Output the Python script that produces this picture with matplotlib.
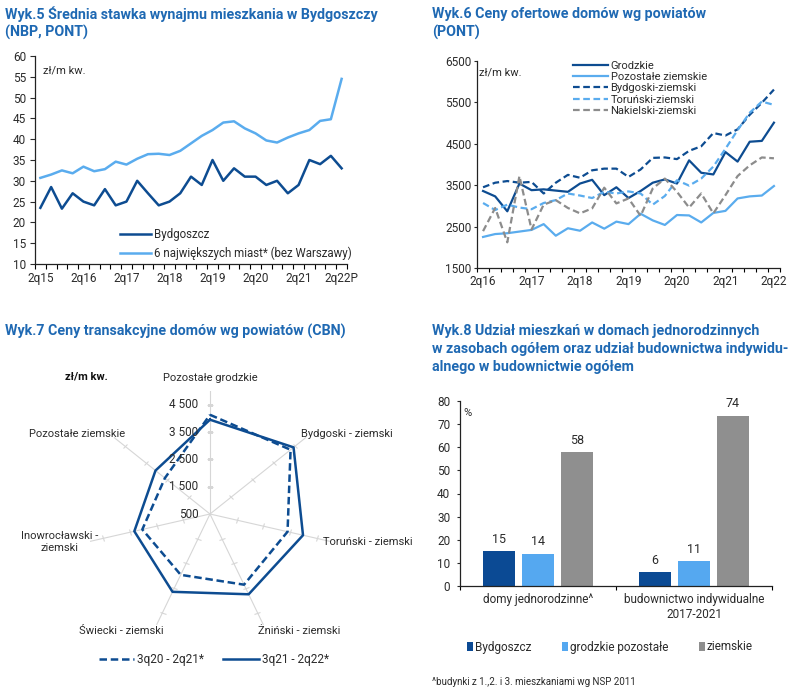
import numpy as np
import matplotlib
matplotlib.use('Agg')
import matplotlib.pyplot as plt
from matplotlib.markers import MarkerStyle
from matplotlib.transforms import Affine2D

plt.rcParams['font.family'] = ['Roboto', 'DejaVu Sans']

# --- Wyk.5: stawka wynajmu (zl/m kw.), 2q15 .. 2q22P
q5_labels = ['2q15', '2q16', '2q17', '2q18', '2q19', '2q20', '2q21', '2q22P']
bydgoszcz = [23.5, 28.5, 23.3, 27, 25, 24.1, 28, 24.1, 25, 30, 27, 24.1, 25, 27, 31,
             29, 35, 30, 33, 31, 31, 29, 30, 27, 29, 35, 34, 36, 33]
miasta6 = [30.7, 31.5, 32.5, 31.8, 33.4, 32.3, 32.8, 34.6, 33.9, 35.3, 36.4, 36.5, 36.2,
           37.2, 39, 40.8, 42.2, 44, 44.3, 42.6, 41.4, 39.7, 39.2, 40.4, 41.4, 42.2,
           44.4, 44.8, 54.5]

# --- Wyk.6: ceny ofertowe domow (zl/m kw.), 2q16 .. 2q22
q6_labels = ['2q16', '2q17', '2q18', '2q19', '2q20', '2q21', '2q22']
grodzkie = [3360, 3230, 2870, 3540, 3380, 3400, 3370, 3340, 3540, 3630, 3260, 3450, 3190,
            3360, 3560, 3640, 3540, 4100, 3800, 3760, 4300, 4070, 4550, 4570, 5010]
pozostale_ziemskie = [2250, 2320, 2340, 2380, 2420, 2560, 2280, 2460, 2400, 2600, 2450,
                      2620, 2560, 2810, 2650, 2540, 2780, 2770, 2600, 2830, 2880, 3180,
                      3230, 3250, 3480]
bydgoski = [3450, 3560, 3600, 3560, 3580, 3300, 3560, 3750, 3680, 3860, 3900, 3900, 3700,
            3880, 4160, 4170, 4130, 4330, 4440, 4760, 4700, 4850, 5200, 5490, 5810]
torunski = [3070, 2900, 3030, 2960, 2920, 3070, 3140, 3300, 3250, 3190, 3340, 3300, 3350,
            3300, 3030, 3240, 3620, 3490, 3660, 3950, 4380, 4830, 5250, 5520, 5440]
nakielski = [2390, 2950, 2120, 3720, 2430, 3030, 3140, 2950, 2820, 2940, 3440, 3060, 3180,
             2760, 3420, 3660, 3340, 2960, 3300, 2820, 3260, 3720, 3980, 4170, 4150]

# --- Wyk.7: ceny transakcyjne (zl/m kw.)
powiaty = ['Pozostałe grodzkie', 'Bydgoski - ziemski', 'Toruński - ziemski',
           'Żniński - ziemski', 'Świecki - ziemski', 'Inowrocławski -\nziemski',
           'Pozostałe ziemskie']
okres_a = [4130, 4270, 3410, 3370, 2970, 3040, 2610]   # 3q20 - 2q21*
okres_b = [3950, 4410, 3990, 3760, 3660, 3340, 3050]   # 3q21 - 2q22*
r_labels = [500, 1500, 2500, 3500, 4500]

# --- Wyk.8: udzialy (%)
grupy = ['domy jednorodzinne^', 'budownictwo indywidualne\n2017-2021']
udz_bydgoszcz = [15.1, 6.0]
udz_grodzkie = [13.9, 10.6]
udz_ziemskie = [57.9, 73.7]

dark = '#0d4c91'
light = '#5aacee'
grey = '#8c8c8c'
title_c = '#1f69b3'
txt = '#2b2b2b'

W, H = 797, 695
fig = plt.figure(figsize=(W / 100, H / 100), dpi=100)


def box(l, t, r, b):
    return [l / W, 1 - b / H, (r - l) / W, (b - t) / H]


def ftext(x, y, s, **kw):
    fig.text(x / W, 1 - y / H, s, **kw)


def title(x, ys, lines):
    for y, s in zip(ys, lines):
        ftext(x, y, s, fontsize=10.3, fontweight='bold', color=title_c, va='center')


def line_axes(ax):
    for s in ['top', 'right']:
        ax.spines[s].set_visible(False)
    for s in ['left', 'bottom']:
        ax.spines[s].set_color('#222222')
        ax.spines[s].set_linewidth(0.9)


# ===== Wyk.5
title(5, [14, 32], ['Wyk.5 Średnia stawka wynajmu mieszkania w Bydgoszczy', '(NBP, PONT)'])
ax5 = fig.add_axes(box(35, 56, 347, 264))
x5 = np.arange(len(bydgoszcz))
ax5.plot(x5, bydgoszcz, color=dark, lw=1.8, label='Bydgoszcz')
ax5.plot(x5, miasta6, color=light, lw=1.8, label='6 największych miast* (bez Warszawy)')
ax5.set_xlim(-0.5, len(x5) - 0.5)
ax5.set_ylim(10, 60)
ax5.set_yticks(range(10, 61, 5))
ax5.set_xticks(np.arange(0, len(x5), 4), q5_labels)
ax5.set_xticks(np.arange(-0.5, len(x5), 1), minor=True)
ax5.tick_params(axis='x', which='major', length=0, pad=6, labelsize=8.5, colors=txt)
ax5.tick_params(axis='x', which='minor', length=3.5, width=0.8, direction='out')
ax5.tick_params(axis='y', length=3.5, width=0.8, pad=3, labelsize=8.5, colors=txt)
line_axes(ax5)
ax5.legend(loc='lower left', bbox_to_anchor=(0.24, -0.03), frameon=False, fontsize=8.3,
           handlelength=2.7, handletextpad=0.2, labelspacing=0.5, labelcolor=txt)
ftext(43, 70, 'zł/m kw.', fontsize=8, color=txt, va='center')

# ===== Wyk.6
title(432, [14, 32], ['Wyk.6 Ceny ofertowe domów wg powiatów', '(PONT)'])
ax6 = fig.add_axes(box(477, 61, 780, 268))
x6 = np.arange(len(grodzkie))
ax6.plot(x6, grodzkie, color=dark, lw=1.6, label='Grodzkie')
ax6.plot(x6, pozostale_ziemskie, color=light, lw=1.6, label='Pozostałe ziemskie')
ax6.plot(x6, bydgoski, color=dark, lw=1.6, ls=(0, (3, 1.6)), label='Bydgoski-ziemski')
ax6.plot(x6, torunski, color=light, lw=1.6, ls=(0, (3, 1.6)), label='Toruński-ziemski')
ax6.plot(x6, nakielski, color=grey, lw=1.6, ls=(0, (3, 1.6)), label='Nakielski-ziemski')
ax6.set_xlim(-0.5, len(x6) - 0.5)
ax6.set_ylim(1500, 6500)
ax6.set_yticks(range(1500, 6501, 1000))
ax6.set_xticks(np.arange(0, len(x6), 4), q6_labels)
ax6.set_xticks(np.arange(-0.5, len(x6), 1), minor=True)
ax6.tick_params(axis='x', which='major', length=0, pad=5, labelsize=8.5, colors=txt)
ax6.tick_params(axis='x', which='minor', length=3, width=0.8, direction='out')
ax6.tick_params(axis='y', length=2.5, width=0.8, pad=1.5, labelsize=8.5, colors=txt)
line_axes(ax6)
ax6.legend(loc='upper left', bbox_to_anchor=(0.285, 1.05), frameon=False, fontsize=8,
           handlelength=3.1, handletextpad=0.25, labelspacing=0.12, labelcolor=txt)
ftext(479, 72, 'zł/m kw.', fontsize=8, color=txt, va='center')

# ===== Wyk.7 (radar)
title(5, [331], ['Wyk.7 Ceny transakcyjne domów wg powiatów (CBN)'])
ax7 = fig.add_axes(box(87, 391, 333, 637), projection='polar')
ax7.set_theta_zero_location('N')
ax7.set_theta_direction(-1)
ang = np.linspace(0, 2 * np.pi, len(powiaty), endpoint=False)
ang_c = np.append(ang, ang[0])
ax7.plot(ang_c, okres_a + okres_a[:1], color=dark, lw=1.8, ls=(0, (3, 1.5)),
         label='3q20 - 2q21*')
ax7.plot(ang_c, okres_b + okres_b[:1], color=dark, lw=1.8, label='3q21 - 2q22*')
ax7.set_ylim(500, 5000)
ax7.set_xticks(ang)
ax7.set_xticklabels([])
ax7.set_yticks([])
ax7.xaxis.grid(True, color='#d6d6d6', lw=0.8)
ax7.yaxis.grid(False)
ax7.spines['polar'].set_visible(False)
for a in ang:
    mk = MarkerStyle('|', transform=Affine2D().rotate_deg(90 - np.degrees(a)))
    ax7.plot([a] * 4, r_labels[1:], ls='none', marker=mk, ms=4, mew=0.8,
             color='#d6d6d6', zorder=1)
for v in r_labels:
    ax7.annotate(f'{v:,}'.replace(',', ' '), xy=(0, v), xytext=(-8.5, 0),
                 textcoords='offset points', ha='right', va='center', fontsize=8.5,
                 color=txt)
lab_pos = [(210, 378, 'center'), (301, 434, 'left'), (323, 542, 'left'),
           (299, 631, 'center'), (121, 631, 'center'), (60, 542, 'center'),
           (77, 434, 'center')]
for (x, y, ha), s in zip(lab_pos, powiaty):
    ftext(x, y, s, fontsize=8, color=txt, ha=ha, va='center', linespacing=1.15)
ftext(86, 376, 'zł/m kw.', fontsize=8, fontweight='bold', color='#111111',
      ha='center', va='center')
ax7.legend(loc='center', bbox_to_anchor=(214 / W, 1 - 660 / H),
           bbox_transform=fig.transFigure, ncol=2, frameon=False, fontsize=8.5,
           handlelength=3.0, handletextpad=0.3, columnspacing=1.6, labelcolor=txt)

# ===== Wyk.8 (bars)
title(432, [331, 349, 367], ['Wyk.8 Udział mieszkań w domach jednorodzinnych',
                             'w zasobach ogółem oraz udział budownictwa indywidu-',
                             'alnego w budownictwie ogółem'])
ax8 = fig.add_axes(box(460, 401, 772, 586))
xg = np.arange(len(grupy))
bw, step = 0.2, 0.25
series = [(udz_bydgoszcz, '#0b4a94', 'Bydgoszcz'),
          (udz_grodzkie, '#55a8f0', 'grodzkie pozostałe'),
          (udz_ziemskie, '#8f8f8f', 'ziemskie')]
for k, (vals, col, lab) in enumerate(series):
    bars = ax8.bar(xg + (k - 1) * step, vals, bw, color=col, label=lab)
    for b, v in zip(bars, vals):
        ax8.annotate(f'{v:.0f}', xy=(b.get_x() + bw / 2, v), xytext=(0, 4),
                     textcoords='offset points', ha='center', va='bottom',
                     fontsize=9, color=txt)
ax8.set_xlim(-0.5, len(grupy) - 0.5)
ax8.set_ylim(0, 80)
ax8.set_yticks(range(0, 81, 10))
ax8.set_xticks(xg, grupy)
ax8.set_xticks(np.arange(-0.5, len(grupy), 1), minor=True)
ax8.tick_params(axis='x', which='major', length=0, pad=5, labelsize=8.5, colors=txt)
ax8.tick_params(axis='x', which='minor', length=3, width=0.8, direction='out')
ax8.tick_params(axis='y', length=2.5, width=0.8, pad=4.5, labelsize=8.5, colors=txt)
line_axes(ax8)
ftext(468, 413, '%', fontsize=8, color=txt, ha='center', va='center')
ax8.legend(loc='center', bbox_to_anchor=(610 / W, 1 - 647 / H),
           bbox_transform=fig.transFigure, ncol=3, frameon=False, fontsize=8.5,
           handlelength=0.5, handleheight=0.8, handletextpad=0.15, columnspacing=2.6,
           labelcolor=txt)
ftext(432, 682, '^budynki z 1.,2. i 3. mieszkaniami wg NSP 2011', fontsize=7,
      color=txt, va='center')

fig.savefig('out.png', dpi=100)
